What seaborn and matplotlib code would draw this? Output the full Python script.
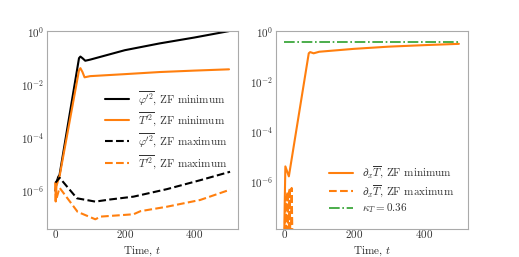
import numpy as np
import pandas as pd
import matplotlib
matplotlib.use("Agg")
import matplotlib.pyplot as plt
import seaborn as sns

# left panel: fluctuation energies
t_phi_min = [0, 3, 8, 12, 68, 72, 78, 86, 100, 200, 300, 400, 500]
phi_min = [1e-6, 2e-6, 3.3e-6, 4e-6, 0.1, 0.115, 0.1, 0.08, 0.088, 0.2, 0.36, 0.6, 1.05]

t_T_min = [0, 1, 3, 8, 12, 68, 72, 78, 84, 100, 200, 300, 400, 500]
T_min = [2e-6, 4e-7, 1.5e-6, 2.5e-6, 3.5e-6, 0.035, 0.042, 0.03, 0.019, 0.021, 0.025, 0.03, 0.034, 0.038]

t_phi_max = [0, 12, 62, 115, 158, 225, 321, 417, 503]
phi_max = [2e-6, 3.1e-6, 5.2e-7, 3.9e-7, 4.7e-7, 6e-7, 1.15e-6, 2.5e-6, 5.2e-6]

t_T_max = [0, 1, 12, 64, 115, 130, 225, 245, 321, 417, 503]
T_max = [2e-6, 4e-7, 1.3e-6, 1.6e-7, 8.4e-8, 1.06e-7, 1.3e-7, 1.7e-7, 2.5e-7, 4.5e-7, 1.1e-6]

# right panel: mean temperature gradient
t_grad_min = [0, 1, 3, 13, 70, 74, 84, 100, 200, 300, 400, 500]
grad_min = [1e-8, 1e-7, 4e-6, 1.6e-6, 0.13, 0.145, 0.13, 0.15, 0.196, 0.24, 0.275, 0.31]

t_grad_max = [0, 3, 6, 9, 12, 15, 18, 21, 24]
grad_max = [1e-9, 2.5e-7, 1e-9, 4e-7, 1e-9, 5.5e-7, 1e-9, 5.5e-7, 1e-9]

kappa_T = 0.36
t_kappa = [0, 500]

sns.set_style("white")
plt.rcParams["font.family"] = "serif"
plt.rcParams["font.serif"] = ["cmr10", "DejaVu Serif"]
plt.rcParams["mathtext.fontset"] = "cm"
plt.rcParams["axes.formatter.use_mathtext"] = True
plt.rcParams["axes.edgecolor"] = "#aaaaaa"
plt.rcParams["text.color"] = "#333333"
plt.rcParams["xtick.color"] = "#333333"
plt.rcParams["ytick.color"] = "#333333"

fig = plt.figure(figsize=(5.19, 2.57), dpi=100)
ax1 = fig.add_axes([0.090, 0.110, 0.368, 0.769])
ax2 = fig.add_axes([0.531, 0.110, 0.370, 0.769])

orange = "#ff7f0e"
green = "#2ca02c"

sns.lineplot(x=t_phi_min, y=phi_min, ax=ax1, color="black", lw=1.5,
             label=r"$\overline{\varphi^{\prime 2}}$, ZF minimum")
sns.lineplot(x=t_T_min, y=T_min, ax=ax1, color=orange, lw=1.5,
             label=r"$\overline{T^{\prime 2}}$, ZF minimum")
sns.lineplot(x=t_phi_max, y=phi_max, ax=ax1, color="black", lw=1.5, ls="--",
             label=r"$\overline{\varphi^{\prime 2}}$, ZF maximum")
sns.lineplot(x=t_T_max, y=T_max, ax=ax1, color=orange, lw=1.5, ls="--",
             label=r"$\overline{T^{\prime 2}}$, ZF maximum")

sns.lineplot(x=t_grad_min, y=grad_min, ax=ax2, color=orange, lw=1.5,
             label=r"$\partial_x \overline{T}$, ZF minimum")
sns.lineplot(x=t_grad_max, y=grad_max, ax=ax2, color=orange, lw=1.5, ls="--",
             label=r"$\partial_x \overline{T}$, ZF maximum")
sns.lineplot(x=t_kappa, y=[kappa_T, kappa_T], ax=ax2, color=green, lw=1.2, ls="-.",
             label=r"$\kappa_T = 0.36$")

for ax in (ax1, ax2):
    ax.set_yscale("log")
    ax.set_xlim(-25, 525)
    ax.set_xticks([0, 200, 400])
    ax.set_yticks([1e-6, 1e-4, 1e-2, 1])
    ax.minorticks_off()
    ax.tick_params(labelsize=8, length=1.5, width=0.6, pad=0.5, color="#aaaaaa")
    ax.tick_params(axis="x", pad=-2.0)
    ax.set_xlabel("Time, $t$", fontsize=8, labelpad=3)

ax1.set_ylim(3.7e-8, 1.05)
ax2.set_ylim(1.3e-8, 1.0)

ax1.legend(loc="center right", frameon=False, fontsize=8, handlelength=2.2,
           handletextpad=0.8, labelspacing=0.3, borderaxespad=0.5)
ax2.legend(loc="lower right", frameon=False, fontsize=8, handlelength=2.2,
           handletextpad=0.8, labelspacing=0.18, borderaxespad=0.8)

fig.savefig("out.png", dpi=100)
